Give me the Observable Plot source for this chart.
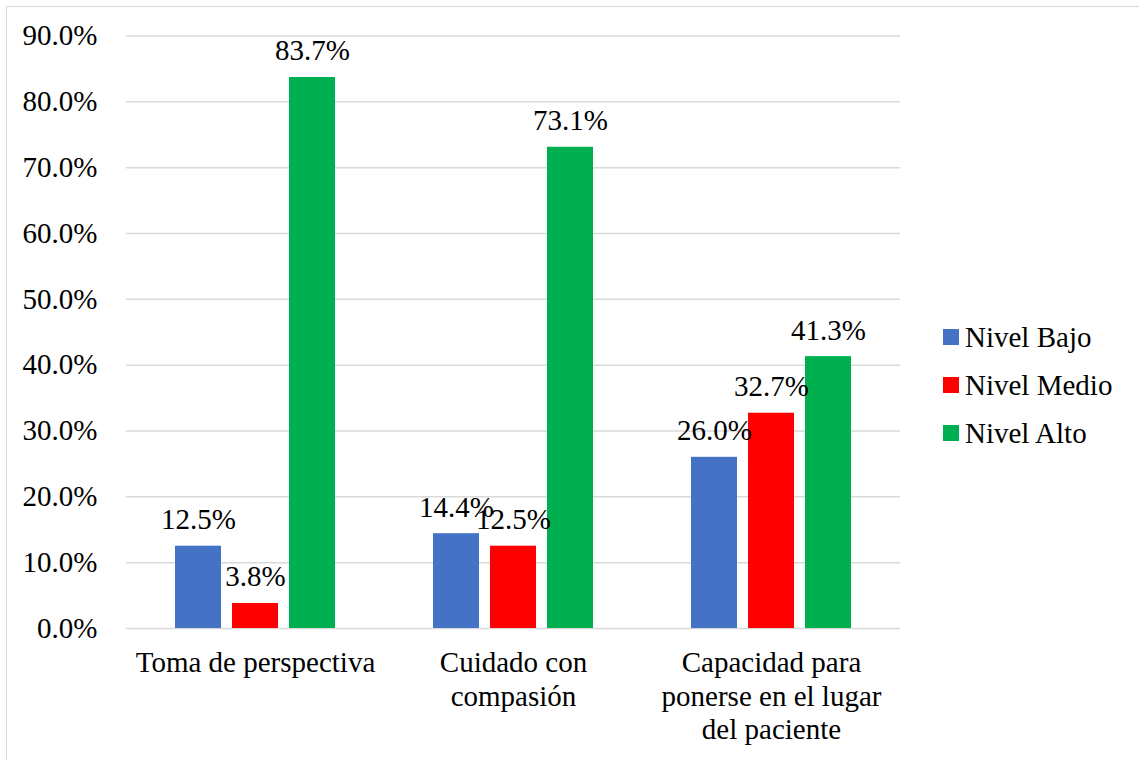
<!DOCTYPE html>
<html lang="es">
<head>
<meta charset="utf-8">
<script src="https://cdn.jsdelivr.net/npm/d3@7"></script>
<script src="https://cdn.jsdelivr.net/npm/@observablehq/plot@0.6"></script>
<style>
  html, body { margin: 0; padding: 0; background: #fff; color: #000; }
  #wrap { position: relative; width: 1139px; height: 760px; overflow: hidden;
          font-family: "Liberation Serif", "Times New Roman", serif; }
  #frame { position: absolute; left: 6px; top: 6px; width: 1200px; height: 800px;
           border-left: 1px solid #d9d9d9; border-top: 1px solid #d9d9d9; box-sizing: border-box; }
  #chart { position: absolute; left: 0; top: 0; }
  #legend { position: absolute; left: 943px; top: 0; }
  .item { position: absolute; left: 0; display: flex; align-items: center; white-space: nowrap;
          font-size: 29px; line-height: 1; }
  .sw { width: 16px; height: 16px; margin-right: 6px; }
</style>
</head>
<body>
<div id="wrap">
  <div id="frame"></div>
  <div id="chart"></div>
  <div id="legend"></div>
</div>
<script>
// Dimensiones de empatía evaluadas
const categories = ["Toma de perspectiva", "Cuidado con compasión", "Capacidad para ponerse en el lugar del paciente"];
const categoryLabels = ["Toma de perspectiva", "Cuidado con\ncompasión", "Capacidad para\nponerse en el lugar\ndel paciente"];

// Niveles (series) y sus colores
const levels = ["Nivel Bajo", "Nivel Medio", "Nivel Alto"];
const levelColors = ["#4472C4", "#FF0000", "#00B050"];

// Porcentajes por nivel, en el orden de las dimensiones
const nivelBajo = [12.5, 14.4, 26.0];
const nivelMedio = [3.8, 12.5, 32.7];
const nivelAlto = [83.7, 73.1, 41.3];

const yTicks = [0, 10, 20, 30, 40, 50, 60, 70, 80, 90];

const seriesValues = [nivelBajo, nivelMedio, nivelAlto];
const rows = [];
categories.forEach((c, i) => {
  levels.forEach((l, j) => rows.push({categoria: c, nivel: l, valor: seriesValues[j][i]}));
});

const font = "'Liberation Serif', 'Times New Roman', serif";
const fs = 29;

const chart = Plot.plot({
  width: 1139,
  height: 760,
  marginLeft: 125,
  marginRight: 239,
  marginTop: 35.5,
  marginBottom: 132,
  style: {fontFamily: font, fontSize: fs + "px", color: "#000", background: "transparent", overflow: "visible"},
  fx: {domain: categories, padding: 0, label: null},
  x: {domain: levels, paddingInner: 0.2, paddingOuter: 0.83, axis: null},
  y: {domain: [0, 90], label: null},
  color: {domain: levels, range: levelColors},
  marks: [
    Plot.gridY(yTicks, {stroke: "#d9d9d9", strokeOpacity: 1, strokeWidth: 1.5}),
    Plot.axisY({ticks: yTicks, tickSize: 0, tickPadding: 29, tickFormat: d => d.toFixed(1) + "%",
                fontSize: fs, fontFamily: font, fill: "#000", label: null}),
    Plot.axisFx({anchor: "bottom", tickSize: 0, tickPadding: 19, fontSize: fs, fontFamily: font,
                 fill: "#000", lineHeight: 1.17, label: null,
                 tickFormat: d => categoryLabels[categories.indexOf(d)]}),
    Plot.barY(rows, {fx: "categoria", x: "nivel", y: "valor", fill: "nivel"}),
    Plot.text(rows, {fx: "categoria", x: "nivel", y: "valor", text: d => d.valor.toFixed(1) + "%",
                     lineAnchor: "bottom", dy: -17, fontSize: fs, fontFamily: font, fill: "#000"})
  ]
});
document.getElementById("chart").appendChild(chart);

// Leyenda
const legendRowsY = [337, 385, 433];
const legend = d3.select("#legend");
levels.forEach((l, i) => {
  const item = legend.append("div").attr("class", "item").style("top", (legendRowsY[i] - 14) + "px")
    .style("height", "28px");
  item.append("div").attr("class", "sw").style("background", levelColors[i]);
  item.append("span").text(l);
});
</script>
</body>
</html>
